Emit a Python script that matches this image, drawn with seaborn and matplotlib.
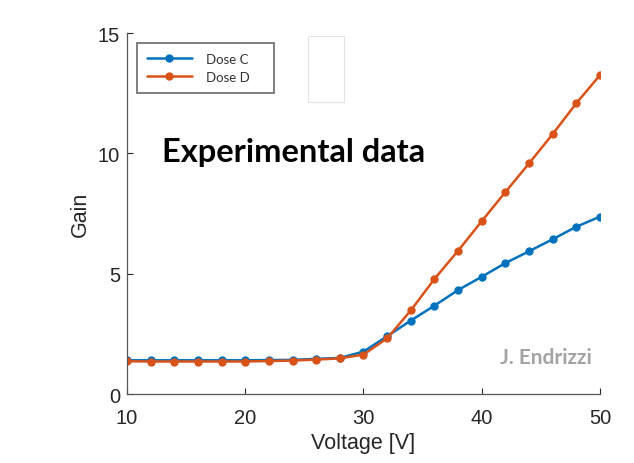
import numpy as np
import pandas as pd
import matplotlib.pyplot as plt
import seaborn as sns
from matplotlib.patches import Rectangle

sns.set_theme(style="white")
plt.rcParams["font.family"] = ["Liberation Sans", "DejaVu Sans"]

# Gain vs voltage
voltage = [10, 12, 14, 16, 18, 20, 22, 24, 26, 28, 30, 32, 34, 36, 38, 40, 42, 44, 46, 48, 50]
dose_c = [1.40, 1.40, 1.40, 1.40, 1.40, 1.40, 1.41, 1.42, 1.46, 1.50, 1.76, 2.40, 3.05, 3.67,
          4.32, 4.87, 5.44, 5.93, 6.43, 6.95, 7.37]
dose_d = [1.36, 1.35, 1.35, 1.35, 1.35, 1.35, 1.37, 1.39, 1.43, 1.48, 1.64, 2.31, 3.47, 4.78,
          5.95, 7.18, 8.39, 9.58, 10.80, 12.08, 13.25]
series_names = ["Dose C", "Dose D"]
colors = ["#0072BD", "#D95319"]

df = pd.DataFrame({"voltage": voltage * 2,
                   "gain": dose_c + dose_d,
                   "dose": [series_names[0]] * len(voltage) + [series_names[1]] * len(voltage)})

fig = plt.figure(figsize=(6.34, 4.64), dpi=100)
ax = fig.add_axes([0.2003, 0.1487, 0.746, 0.778])

for name, col in zip(series_names, colors):
    sub = df[df["dose"] == name]
    sns.lineplot(data=sub, x="voltage", y="gain", ax=ax, color=col, linewidth=1.8,
                 marker="o", markersize=5, markerfacecolor=col, markeredgecolor=col,
                 markeredgewidth=1.0, label=name)

ax.set_xlim(10, 50)
ax.set_ylim(0, 15)
ax.set_xticks([10, 20, 30, 40, 50])
ax.set_yticks([0, 5, 10, 15])
ax.tick_params(direction="in", length=4, width=0.8, colors="#262626", labelsize=14.5,
               bottom=True, left=True)
ax.tick_params(axis="x", pad=10)
ax.tick_params(axis="y", pad=5)
for s in ["top", "right"]:
    ax.spines[s].set_visible(False)
for s in ["left", "bottom"]:
    ax.spines[s].set_color("#555555")
    ax.spines[s].set_linewidth(0.9)
ax.set_xlabel("Voltage [V]", fontsize=15.5, color="#262626", labelpad=4)
ax.set_ylabel("Gain", fontsize=15.5, color="#262626", labelpad=5)

leg = ax.legend(loc="upper left", bbox_to_anchor=(0.021, 0.83, 0.29, 0.142), mode="expand",
                borderaxespad=0, prop={"family": "Lato", "size": 9.5}, frameon=True,
                fancybox=False, handlelength=3.4, handletextpad=1.1, borderpad=0.75,
                labelspacing=0.45)
leg.get_frame().set_edgecolor("#444444")
leg.get_frame().set_linewidth(1.2)
for t in leg.get_texts():
    t.set_color("#333333")

# faint pasted box next to the legend
fig.patches.append(Rectangle((308 / 634, 1 - 103 / 464), 36 / 634, 66 / 464,
                             transform=fig.transFigure, fill=False,
                             edgecolor="#e4e4e4", linewidth=0.8))

fig.text(162 / 634, 1 - 153 / 464, "Experimental data", fontsize=23.5, fontweight="bold",
         family="Lato", color="black", va="center", ha="left")
fig.text(592 / 634, 1 - 358 / 464, "J. Endrizzi", fontsize=15, fontweight="bold",
         family="Lato", color="#a3a3a3", va="center", ha="right")

fig.savefig("out.png", dpi=100)
